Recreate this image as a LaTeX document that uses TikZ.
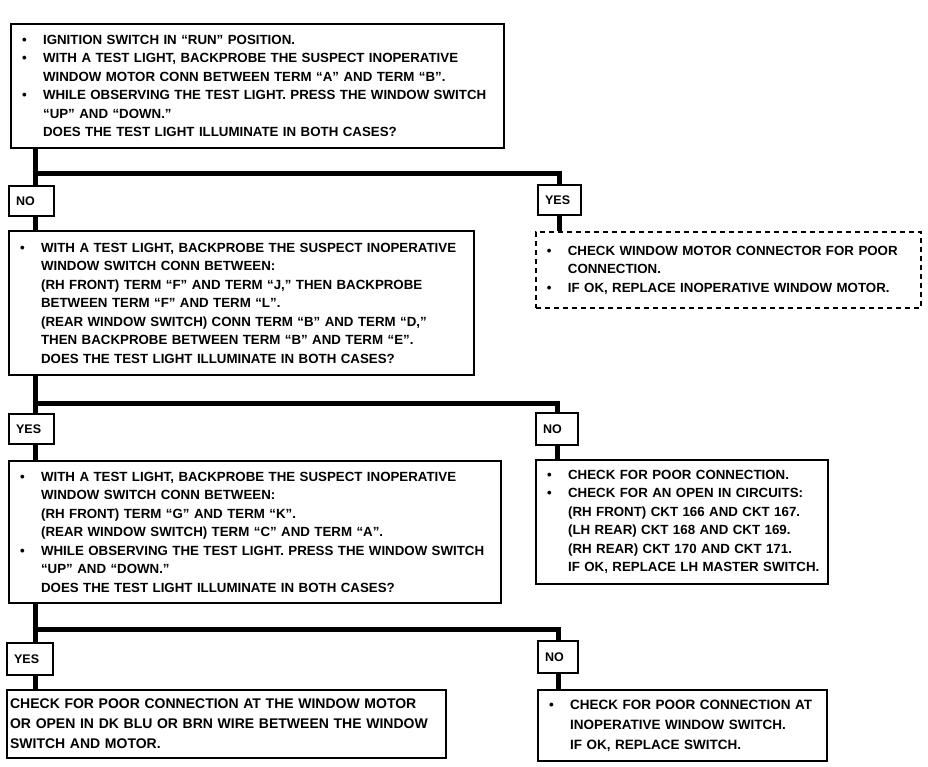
\documentclass[tikz,border=0pt]{standalone}
\usepackage{fontspec}
\setmainfont{Liberation Sans}
\usetikzlibrary{positioning}
\newcommand{\bul}{\hspace*{7pt}\makebox[21pt][l]{\textbullet}}
\newcommand{\indt}{\hspace*{28pt}}

\begin{document}
\begin{tikzpicture}[x=1pt,y=-1pt,
  txt/.style={draw,line width=2.2pt,anchor=north west,align=left,inner xsep=4pt,inner ysep=0pt,font=\bfseries\fontsize{13.3}{18.5}\selectfont},
  wtxt/.style={txt,font=\bfseries\fontsize{14}{20}\selectfont},
  dtxt/.style={txt,line width=1.8pt,dash pattern=on 5pt off 4pt},
  tag/.style={draw,line width=2.2pt,anchor=north west,align=left,inner xsep=7pt,inner ysep=0pt,minimum height=30pt,font=\bfseries\fontsize{12.5}{14}\selectfont},
  bus/.style={line width=5pt}]
\useasboundingbox (0,0) rectangle (928,766);

% question boxes, left column
\node[txt,text width=485pt,minimum width=493pt,minimum height=124pt] (q1) at (10,23) {%
\bul IGNITION SWITCH IN ``RUN'' POSITION.\\
\bul WITH A TEST LIGHT, BACKPROBE THE SUSPECT INOPERATIVE\\
\indt WINDOW MOTOR CONN BETWEEN TERM ``A'' AND TERM ``B''.\\
\bul WHILE OBSERVING THE TEST LIGHT. PRESS THE WINDOW SWITCH\\
\indt ``UP'' AND ``DOWN.''\\
\indt DOES THE TEST LIGHT ILLUMINATE IN BOTH CASES?};
\node[txt,text width=457pt,minimum width=465pt,minimum height=144pt] (q2) at (8,230) {%
\bul WITH A TEST LIGHT, BACKPROBE THE SUSPECT INOPERATIVE\\
\indt WINDOW SWITCH CONN BETWEEN:\\
\indt (RH FRONT) TERM ``F'' AND TERM ``J,'' THEN BACKPROBE\\
\indt BETWEEN TERM ``F'' AND TERM ``L''.\\
\indt (REAR WINDOW SWITCH) CONN TERM ``B'' AND TERM ``D,''\\
\indt THEN BACKPROBE BETWEEN TERM ``B'' AND TERM ``E''.\\
\indt DOES THE TEST LIGHT ILLUMINATE IN BOTH CASES?};
\node[txt,text width=484pt,minimum width=492pt,minimum height=142pt] (q3) at (8,460) {%
\bul WITH A TEST LIGHT, BACKPROBE THE SUSPECT INOPERATIVE\\
\indt WINDOW SWITCH CONN BETWEEN:\\
\indt (RH FRONT) TERM ``G'' AND TERM ``K''.\\
\indt (REAR WINDOW SWITCH) TERM ``C'' AND TERM ``A''.\\
\bul WHILE OBSERVING THE TEST LIGHT. PRESS THE WINDOW SWITCH\\
\indt ``UP'' AND ``DOWN.''\\
\indt DOES THE TEST LIGHT ILLUMINATE IN BOTH CASES?};
\node[wtxt,inner xsep=3pt,text width=433pt,minimum width=439pt,minimum height=68pt] (fix3) at (6,689) {%
CHECK FOR POOR CONNECTION AT THE WINDOW MOTOR\\
OR OPEN IN DK BLU OR BRN WIRE BETWEEN THE WINDOW\\
SWITCH AND MOTOR.};

% answer boxes, right column
\node[dtxt,text width=377pt,minimum width=385pt,minimum height=76pt] (ok1) at (535,231) {%
\bul CHECK WINDOW MOTOR CONNECTOR FOR POOR\\
\indt CONNECTION.\\
\bul IF OK, REPLACE INOPERATIVE WINDOW MOTOR.};
\node[txt,text width=284pt,minimum width=292pt,minimum height=124pt] (fix2) at (535,459) {%
\bul CHECK FOR POOR CONNECTION.\\
\bul CHECK FOR AN OPEN IN CIRCUITS:\\
\indt (RH FRONT) CKT 166 AND CKT 167.\\
\indt (LH REAR) CKT 168 AND CKT 169.\\
\indt (RH REAR) CKT 170 AND CKT 171.\\
\indt IF OK, REPLACE LH MASTER SWITCH.};
\node[wtxt,font=\bfseries\fontsize{13.5}{20}\selectfont,text width=281pt,minimum width=289pt,minimum height=71pt] (fix4) at (537,689) {%
\bul CHECK FOR POOR CONNECTION AT\\
\indt INOPERATIVE WINDOW SWITCH.\\
\indt IF OK, REPLACE SWITCH.};

% yes / no tags
\node[tag,text width=31pt] (no1) at (8,185) {NO};
\node[tag,text width=29pt] (yes1) at (537,184) {YES};
\node[tag,text width=31pt] (yes2) at (8,413) {YES};
\node[tag,text width=28pt,minimum height=32pt] (no2) at (535,412) {NO};
\node[tag,text width=32pt,minimum height=32pt] (yes3) at (6,642) {YES};
\node[tag,text width=26pt,minimum height=32pt] (no3) at (537,640) {NO};

% flow lines
\coordinate (j1) at (35,173);
\coordinate (j2) at (35,403);
\coordinate (j3) at (35,629);
\draw[bus] (q1.south -| j1) -- (no1.north -| j1);
\draw[bus] (j1) -| (yes1.north);
\draw[bus] (no1.south -| j1) -- (q2.north -| j1);
\draw[bus] (yes1.south) -- (ok1.north -| yes1.south);
\draw[bus] (q2.south -| j2) -- (yes2.north -| j2);
\draw[bus] (j2) -| (no2.north);
\draw[bus] (yes2.south -| j2) -- (q3.north -| j2);
\draw[bus] (no2.south) -- (fix2.north -| no2.south);
\draw[bus] (q3.south -| j3) -- (yes3.north -| j3);
\draw[bus] (j3) -| (no3.north);
\draw[bus] (yes3.south -| j3) -- (fix3.north -| j3);
\draw[bus] (no3.south) -- (fix4.north -| no3.south);
\end{tikzpicture}
\end{document}
